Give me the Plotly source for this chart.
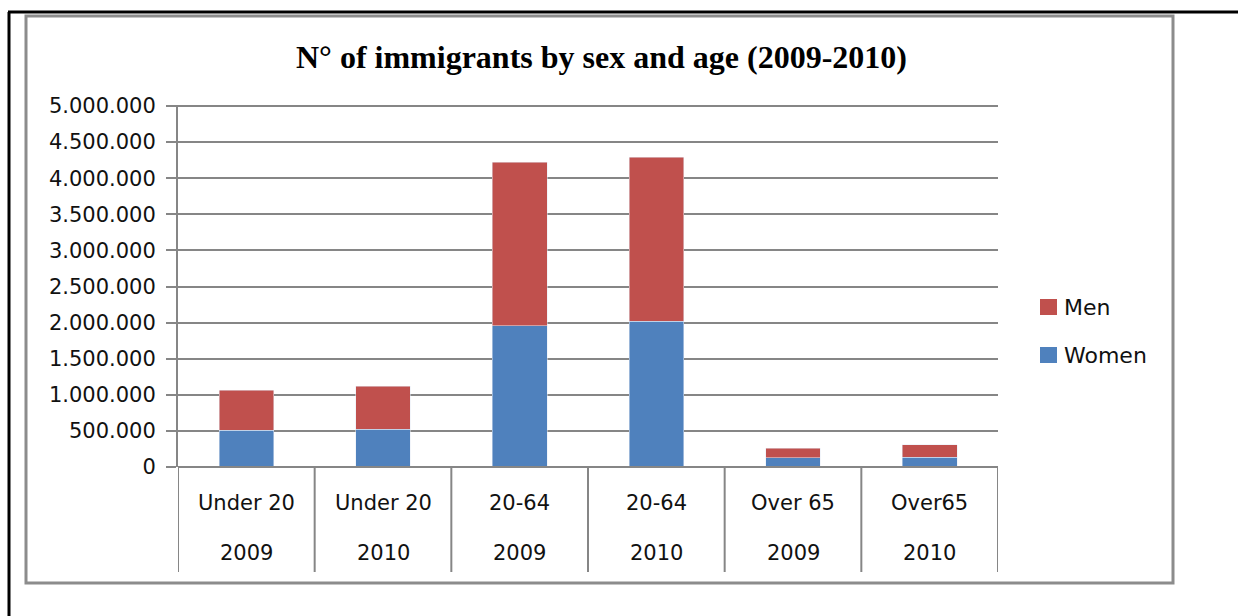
import plotly.graph_objects as go

ages = ["Under 20", "Under 20", "20-64", "20-64", "Over 65", "Over65"]
years = ["2009", "2010", "2009", "2010", "2009", "2010"]
women = [512000, 522000, 1957000, 2022000, 129000, 138000]
men = [554000, 598000, 2267000, 2271000, 134000, 171000]
y_ticks = [0, 500000, 1000000, 1500000, 2000000, 2500000, 3000000, 3500000, 4000000, 4500000, 5000000]
title_text = "N° of immigrants by sex and age (2009-2010)"
women_color = "#4F81BD"
men_color = "#C0504D"

W, H = 1238, 616
L, R, T, B = 178, 998, 105, 467

def px(x):
    return (x - L) / (R - L)

def py(y):
    return (B - y) / (B - T)

xs = list(range(len(ages)))
fig = go.Figure()
fig.add_bar(x=xs, y=women, name="Women", marker_color=women_color, width=0.4)
fig.add_bar(x=xs, y=men, name="Men", marker_color=men_color, width=0.4)

font_family = "DejaVu Sans"
gray = "#868686"
txt = "#111"

fig.update_layout(
    barmode="stack",
    width=W, height=H, autosize=False,
    margin=dict(l=L, r=W - R, t=T, b=H - B),
    paper_bgcolor="white", plot_bgcolor="white",
    separators=",.",
    showlegend=False,
    xaxis=dict(range=[-0.5, 5.5], showticklabels=False, showgrid=False,
               showline=False, zeroline=False, ticks=""),
    yaxis=dict(range=[0, 5014000], tickvals=y_ticks, tickformat=",d",
               showgrid=True, gridcolor=gray, gridwidth=1.5,
               showline=True, linecolor=gray, linewidth=2,
               ticks="outside", ticklen=10, tickcolor=gray, tickwidth=1.5,
               ticklabelstandoff=6,
               zeroline=False,
               tickfont=dict(family=font_family, size=21, color=txt)),
)

shapes = []
# x axis line
shapes.append(dict(type="line", xref="paper", yref="paper", x0=0, x1=1, y0=0, y1=0,
                   line=dict(color=gray, width=2)))
# category dividers
for i in range(len(ages) + 1):
    shapes.append(dict(type="line", xref="x", yref="paper", x0=i - 0.5, x1=i - 0.5,
                       y0=0, y1=py(572), line=dict(color=gray, width=2)))
# gray chart frame
shapes.append(dict(type="rect", xref="paper", yref="paper", x0=px(26), x1=px(1173),
                   y0=py(583), y1=py(16), line=dict(color="#8C8C8C", width=3)))
# black outer lines
shapes.append(dict(type="line", xref="paper", yref="paper", x0=px(8), x1=px(1238),
                   y0=py(12), y1=py(12), line=dict(color="#000", width=3)))
shapes.append(dict(type="line", xref="paper", yref="paper", x0=px(9), x1=px(9),
                   y0=py(12), y1=py(616), line=dict(color="#000", width=3)))
# legend swatches
legend_items = [("Men", men_color, 307), ("Women", women_color, 355)]
for name, col, cy in legend_items:
    shapes.append(dict(type="rect", xref="paper", yref="paper",
                       x0=px(1040), x1=px(1057), y0=py(cy + 8), y1=py(cy - 8),
                       line=dict(width=0), fillcolor=col))
fig.update_layout(shapes=shapes)

ann = []
for i, (a, yr) in enumerate(zip(ages, years)):
    ann.append(dict(x=i, y=py(503), xref="x", yref="paper", text=a, showarrow=False,
                    xanchor="center", yanchor="middle",
                    font=dict(family=font_family, size=21, color=txt)))
    ann.append(dict(x=i, y=py(553), xref="x", yref="paper", text=yr, showarrow=False,
                    xanchor="center", yanchor="middle",
                    font=dict(family=font_family, size=21, color=txt)))
for name, col, cy in legend_items:
    ann.append(dict(x=px(1062), y=py(cy), xref="paper", yref="paper", text=name,
                    showarrow=False, xanchor="left", yanchor="middle",
                    font=dict(family=font_family, size=22, color=txt)))
ann.append(dict(x=px(601), y=py(57), xref="paper", yref="paper", text="<b>" + title_text + "</b>",
                showarrow=False, xanchor="center", yanchor="middle",
                font=dict(family="Liberation Serif", size=32, color="#000")))
fig.update_layout(annotations=ann)

fig.write_html("out.html")
